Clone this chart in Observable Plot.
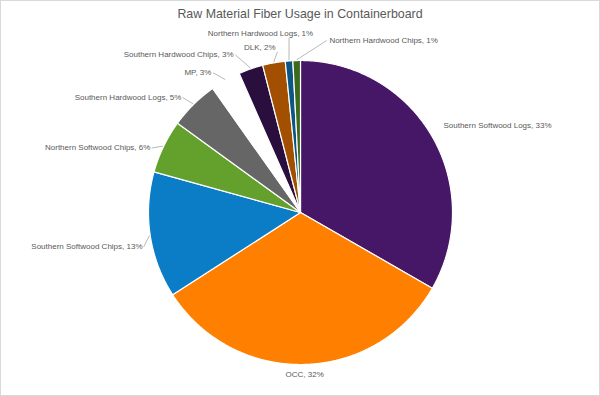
<!DOCTYPE html>
<html><head><meta charset="utf-8">
<script src="https://cdn.jsdelivr.net/npm/d3@7"></script>
<script src="https://cdn.jsdelivr.net/npm/@observablehq/plot@0.6"></script>
<style>
body{margin:0;background:#fff;font-family:"Liberation Sans",Arial,sans-serif;}
#wrap{position:relative;width:600px;height:396px;overflow:hidden;}
#wrap svg{position:absolute;left:0;top:0;}
#title{position:absolute;left:0;top:7px;width:600px;text-align:center;font-size:12.4px;color:#595959;}
#frame{position:absolute;left:0;top:0;width:600px;height:396px;box-sizing:border-box;border:1px solid #d9d9d9;pointer-events:none;}
</style></head>
<body>
<div id="wrap"><div id="title">Raw Material Fiber Usage in Containerboard</div><div id="frame"></div></div>
<script>
// ---- data ----
const categories = ["Southern Softwood Logs","OCC","Southern Softwood Chips","Northern Softwood Chips","Southern Hardwood Logs","MP","Southern Hardwood Chips","DLK","Northern Hardwood Logs","Northern Hardwood Chips"];
const shares = [33.3, 32.6, 13.4, 5.7, 5.2, 3.2, 2.6, 2.4, 0.8, 0.8];
const percentLabels = ["33%","32%","13%","6%","5%","3%","3%","2%","1%","1%"];
const colors = ["#461766","#FF8000","#0B7CC6","#64A02C","#666666","#FFFFFF","#2A0E3D","#A34F00","#0C5684","#3C6A1C"];

// ---- label layout (pixel offsets from slice edge at mid-angle) ----
// [dx, dy, textAnchor, leaderDx, leaderDy] ; leader null = none
const layout = [
  [11.4,-11,"start",null,null],
  [0.3,10,"middle",null,null],
  [-7.7,11.3,"end",-6.5,11.5],
  [-13.2,1.2,"end",-12,1.5],
  [-12.3,-6.8,"end",-11,-6.8],
  [-14.2,-7.7,"end",-12.5,-7.5],
  [-17.3,-14.4,"end",-15.5,-14],
  [1.7,-15.4,"end",3.5,-11],
  [-28.6,-27.4,"middle",0,-23],
  [32.7,-20.3,"start",30,-20]
];

const R = 152; // pixels per unit radius
const arcs = d3.pie().sort(null).value(d => d)(shares);

const polys = [];
arcs.forEach((a, i) => {
  const cat = categories[i];
  polys.push({cat, x: 0, y: 0});
  const n = Math.max(2, Math.ceil((a.endAngle - a.startAngle) / (Math.PI / 720)));
  for (let k = 0; k <= n; k++) {
    const t = a.startAngle + (a.endAngle - a.startAngle) * k / n;
    polys.push({cat, x: Math.sin(t), y: Math.cos(t)});
  }
  polys.push({cat, x: 0, y: 0});
});

const labels = [];
const leaders = [];
arcs.forEach((a, i) => {
  const m = (a.startAngle + a.endAngle) / 2;
  const ex = Math.sin(m), ey = Math.cos(m);
  const [dx, dy, anchor, lx, ly] = layout[i];
  labels.push({text: categories[i] + ", " + percentLabels[i], x: ex + dx / R, y: ey - dy / R, anchor});
  if (lx !== null) {
    leaders.push({x1: ex + lx / R, y1: ey - ly / R, x2: ex * 1.005, y2: ey * 1.005});
  }
});

const chart = Plot.plot({
  width: 600,
  height: 396,
  margin: 0,
  x: {domain: [-1, 1], range: [148, 452], axis: null},
  y: {domain: [-1, 1], range: [364, 60], axis: null},
  color: {domain: categories, range: colors},
  style: {fontFamily: "Liberation Sans, Arial, sans-serif", background: "transparent"},
  marks: [
    Plot.line(polys, {x: "x", y: "y", z: "cat", fill: "cat", stroke: "white", strokeWidth: 1.2, strokeLinejoin: "miter", curve: "linear"}),
    Plot.link(leaders, {x1: "x1", y1: "y1", x2: "x2", y2: "y2", stroke: "#a6a6a6", strokeWidth: 0.8}),
    Plot.text(labels.filter(d => d.anchor === "start"), {x: "x", y: "y", text: "text", textAnchor: "start", fontSize: 8, fill: "#595959"}),
    Plot.text(labels.filter(d => d.anchor === "middle"), {x: "x", y: "y", text: "text", textAnchor: "middle", fontSize: 8, fill: "#595959"}),
    Plot.text(labels.filter(d => d.anchor === "end"), {x: "x", y: "y", text: "text", textAnchor: "end", fontSize: 8, fill: "#595959"})
  ]
});
document.getElementById("wrap").insertBefore(chart, document.getElementById("title"));
</script>
</body></html>
